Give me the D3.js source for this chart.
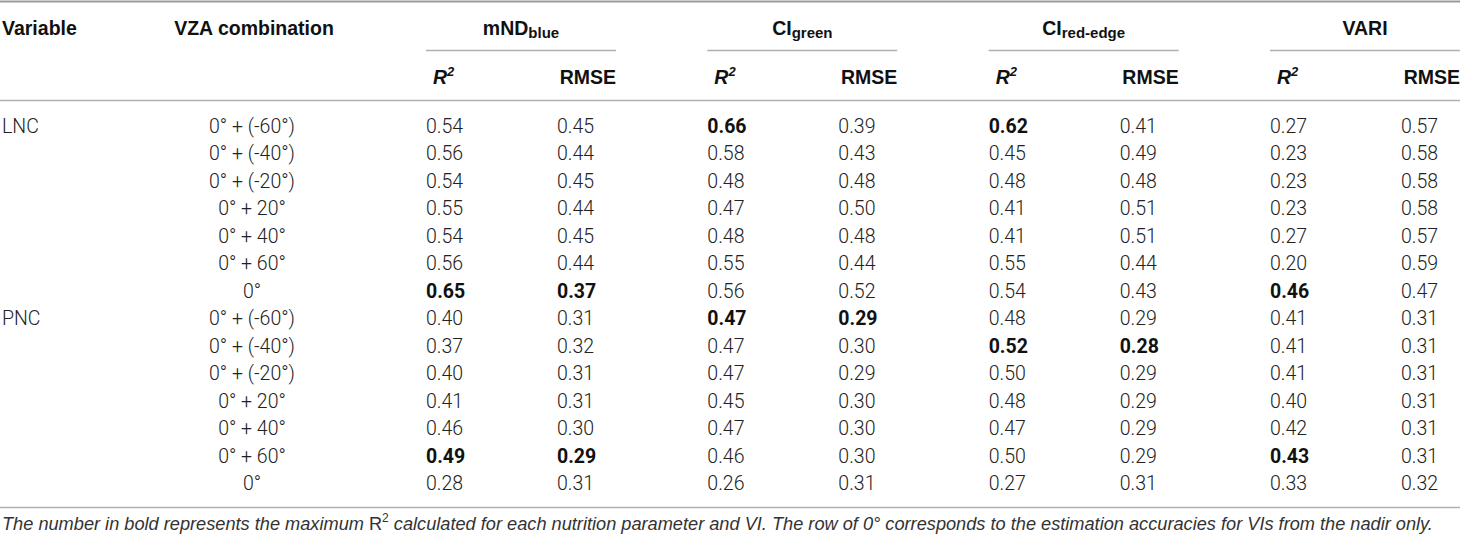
<!DOCTYPE html>
<html>
<head>
<meta charset="utf-8">
<script src="https://cdn.jsdelivr.net/npm/d3@7"></script>
<style>
  html, body { margin: 0; padding: 0; background: #fff; }
  svg { display: block; }
  .hd { font-family: "Liberation Sans", Arial, sans-serif; font-weight: 700; fill: #111; }
  .cell { font-family: Roboto, "Liberation Sans", sans-serif; font-weight: 300; fill: #222; }
  .cell.b { font-weight: 700; fill: #111; }
  .note { font-family: "Liberation Sans", Arial, sans-serif; font-style: italic; fill: #333; }
</style>
</head>
<body>
<svg id="chart"></svg>
<script>
const width = 1460, height = 537;

// row labels
const variables = ['LNC', 'PNC'];
const vzaCombos = ['0° + (-60°)', '0° + (-40°)', '0° + (-20°)', '0° + 20°', '0° + 40°', '0° + 60°', '0°'];

// vegetation indices (main text + subscript)
const indexNames = ['mND', 'CI', 'CI', 'VARI'];
const indexSubs = ['blue', 'green', 'red-edge', ''];
const metrics = ['R2', 'RMSE'];

// values, LNC rows first then PNC rows
const mndR2 = [0.54, 0.56, 0.54, 0.55, 0.54, 0.56, 0.65, 0.40, 0.37, 0.40, 0.41, 0.46, 0.49, 0.28];
const mndRmse = [0.45, 0.44, 0.45, 0.44, 0.45, 0.44, 0.37, 0.31, 0.32, 0.31, 0.31, 0.30, 0.29, 0.31];
const ciGreenR2 = [0.66, 0.58, 0.48, 0.47, 0.48, 0.55, 0.56, 0.47, 0.47, 0.47, 0.45, 0.47, 0.46, 0.26];
const ciGreenRmse = [0.39, 0.43, 0.48, 0.50, 0.48, 0.44, 0.52, 0.29, 0.30, 0.29, 0.30, 0.30, 0.30, 0.31];
const ciRedEdgeR2 = [0.62, 0.45, 0.48, 0.41, 0.41, 0.55, 0.54, 0.48, 0.52, 0.50, 0.48, 0.47, 0.50, 0.27];
const ciRedEdgeRmse = [0.41, 0.49, 0.48, 0.51, 0.51, 0.44, 0.43, 0.29, 0.28, 0.29, 0.29, 0.29, 0.29, 0.31];
const variR2 = [0.27, 0.23, 0.23, 0.23, 0.27, 0.20, 0.46, 0.41, 0.41, 0.41, 0.40, 0.42, 0.43, 0.33];
const variRmse = [0.57, 0.58, 0.58, 0.58, 0.57, 0.59, 0.47, 0.31, 0.31, 0.31, 0.31, 0.31, 0.31, 0.32];

// bold cells: [column index 0..7, row index 0..13]
const boldCells = [[0, 6], [1, 6], [0, 12], [1, 12], [2, 0], [2, 7], [3, 7],
  [4, 0], [4, 8], [5, 8], [6, 6], [6, 12]];

const columns = [mndR2, mndRmse, ciGreenR2, ciGreenRmse, ciRedEdgeR2, ciRedEdgeRmse, variR2, variRmse];
const rowCount = variables.length * vzaCombos.length;

const svg = d3.select('#chart').attr('width', width).attr('height', height);

const groupX = d3.scalePoint().domain(d3.range(indexNames.length)).range([426, 1270]);
const metricX = d3.scalePoint().domain(metrics).range([0, 131]);
const y = d3.scalePoint().domain(d3.range(rowCount)).range([126, 483]);
const groupW = 190;
const fs = 19.5;

// rules
const rules = [
  { x1: 0, x2: width, y: 1.5, w: 2, c: '#9a9a9a' },
  { x1: 0, x2: width, y: 100.5, w: 1.5, c: '#b0b0b0' },
  { x1: 0, x2: width, y: 507.5, w: 1.5, c: '#b0b0b0' }
];
indexNames.forEach((d, i) => rules.push({ x1: groupX(i), x2: groupX(i) + groupW, y: 50.5, w: 1.5, c: '#b0b0b0' }));
svg.selectAll('line.rule').data(rules).join('line')
  .attr('class', 'rule')
  .attr('x1', (d) => d.x1).attr('x2', (d) => d.x2)
  .attr('y1', (d) => d.y).attr('y2', (d) => d.y)
  .attr('stroke', (d) => d.c).attr('stroke-width', (d) => d.w);

// header row 1
svg.append('text').attr('class', 'hd').attr('x', 2).attr('y', 35).attr('font-size', fs).text('Variable');
svg.append('text').attr('class', 'hd').attr('x', 254).attr('y', 35).attr('text-anchor', 'middle')
  .attr('font-size', fs).text('VZA combination');

const titles = svg.selectAll('text.title').data(indexNames).join('text')
  .attr('class', 'hd title')
  .attr('x', (d, i) => groupX(i) + groupW / 2)
  .attr('y', 35)
  .attr('text-anchor', 'middle')
  .attr('font-size', fs);
titles.append('tspan').text((d) => d);
titles.append('tspan').attr('font-size', 15).attr('dy', 3).text((d, i) => indexSubs[i]);

// header row 2
const sub = svg.selectAll('g.sub').data(indexNames).join('g')
  .attr('class', 'sub')
  .attr('transform', (d, i) => `translate(${groupX(i)},0)`);
const r2 = sub.append('text').attr('class', 'hd').attr('x', 7).attr('y', 84).attr('font-size', fs);
r2.append('tspan').attr('font-style', 'italic').text('R');
r2.append('tspan').attr('font-style', 'italic').attr('font-size', 13).attr('dy', -8).text('2');
sub.append('text').attr('class', 'hd').attr('x', groupW).attr('y', 84)
  .attr('text-anchor', 'end').attr('font-size', fs).text('RMSE');

// row labels
svg.selectAll('text.var').data(variables).join('text')
  .attr('class', 'cell var')
  .attr('x', 2)
  .attr('y', (d, i) => y(i * vzaCombos.length))
  .attr('dy', '0.36em')
  .attr('font-size', fs)
  .text((d) => d);

const rowLabels = d3.range(rowCount).map((i) => vzaCombos[i % vzaCombos.length]);
svg.selectAll('text.vza').data(rowLabels).join('text')
  .attr('class', 'cell vza')
  .attr('x', 252)
  .attr('y', (d, i) => y(i))
  .attr('dy', '0.36em')
  .attr('text-anchor', 'middle')
  .attr('font-size', fs)
  .text((d) => d);

// value cells
const isBold = (c, r) => boldCells.some((b) => b[0] === c && b[1] === r);
const cells = [];
columns.forEach((col, c) => col.forEach((v, r) => cells.push({ c, r, v })));
svg.selectAll('text.val').data(cells).join('text')
  .attr('class', (d) => (isBold(d.c, d.r) ? 'cell val b' : 'cell val'))
  .attr('x', (d) => groupX(Math.floor(d.c / 2)) + metricX(metrics[d.c % 2]))
  .attr('y', (d) => y(d.r))
  .attr('dy', '0.36em')
  .attr('font-size', fs)
  .text((d) => d3.format('.2f')(d.v));

// footnote
const note = svg.append('text').attr('class', 'note').attr('x', 2).attr('y', 530).attr('font-size', 18.2);
note.append('tspan').text('The number in bold represents the maximum ');
note.append('tspan').attr('font-style', 'normal').text('R');
note.append('tspan').attr('font-style', 'normal').attr('font-size', 12).attr('dy', -8).text('2');
note.append('tspan').attr('dy', 8)
  .text(' calculated for each nutrition parameter and VI. The row of 0° corresponds to the estimation accuracies for VIs from the nadir only.');
</script>
</body>
</html>
